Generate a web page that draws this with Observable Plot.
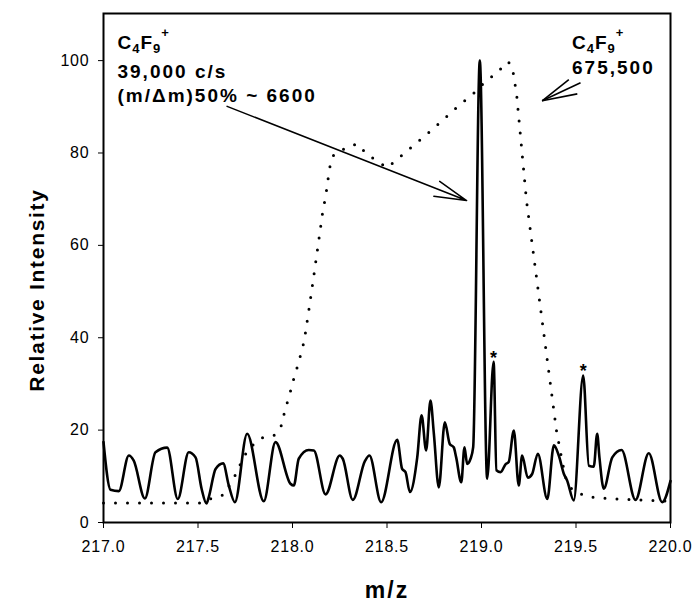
<!DOCTYPE html>
<html>
<head>
<meta charset="utf-8">
<script src="https://cdn.jsdelivr.net/npm/d3@7"></script>
<script src="https://cdn.jsdelivr.net/npm/@observablehq/plot@0.6"></script>
<style>
  body { margin: 0; background: #fff; }
</style>
</head>
<body>
<div id="chart"></div>
<script>
// ---- Data ----
const xTicks = [217.0, 217.5, 218.0, 218.5, 219.0, 219.5, 220.0];
const yTicks = [0, 20, 40, 60, 80, 100];

// High-resolution spectrum (solid line)
const solidMz = [217.000, 217.037, 217.081, 217.134, 217.160, 217.219, 217.275, 217.337, 217.393, 217.451,
  217.487, 217.519, 217.545, 217.557, 217.593, 217.633, 217.663, 217.695, 217.760, 217.848,
  217.910, 217.989, 218.007, 218.033, 218.086, 218.113, 218.175, 218.250, 218.266, 218.319,
  218.383, 218.407, 218.469, 218.554, 218.580, 218.598, 218.621, 218.660, 218.683, 218.707,
  218.730, 218.748, 218.774, 218.806, 218.832, 218.853, 218.866, 218.893, 218.910, 218.924,
  218.942, 218.956, 218.991, 219.030, 219.064, 219.079, 219.101, 219.127, 219.144, 219.171,
  219.197, 219.215, 219.245, 219.268, 219.298, 219.348, 219.383, 219.409, 219.436, 219.453,
  219.488, 219.538, 219.568, 219.594, 219.612, 219.624, 219.647, 219.692, 219.741, 219.815,
  219.885, 219.956, 220.000];
const solidIntensity = [17.4, 7.1, 6.8, 14.5, 13.4, 5.2, 15.2, 16.2, 5.1, 15.2,
  14.1, 7.3, 4.1, 5.5, 11.6, 12.8, 8.0, 4.4, 19.2, 4.6,
  17.4, 8.4, 8.0, 13.8, 15.7, 15.6, 6.1, 14.5, 13.8, 4.9,
  13.3, 14.5, 4.4, 17.9, 11.6, 10.9, 6.6, 14.1, 23.2, 15.6,
  26.4, 19.2, 7.6, 21.7, 17.0, 16.3, 14.1, 8.7, 16.3, 12.7,
  13.8, 16.3, 100, 9.5, 34.8, 11.3, 10.9, 12.6, 13.1, 19.9,
  8.0, 14.5, 9.7, 10.5, 14.9, 5.1, 16.7, 14.5, 10.5, 9.1,
  4.8, 31.8, 12.3, 12.1, 19.2, 14.1, 7.3, 14.1, 15.7, 4.9,
  15.0, 4.4, 9.0];

// Low-resolution spectrum (dotted line)
const dottedMz = [217.000, 217.508, 217.566, 217.637, 217.698, 217.725, 217.767, 217.836, 217.901, 217.937,
  217.951, 217.967, 217.984, 217.998, 218.032, 218.062, 218.088, 218.113, 218.138, 218.162,
  218.175, 218.192, 218.201, 218.219, 218.289, 218.342, 218.395, 218.501, 218.562, 218.628,
  218.692, 218.757, 218.822, 218.885, 218.951, 219.012, 219.078, 219.141, 219.166, 219.171,
  219.184, 219.189, 219.238, 219.374, 219.397, 219.418, 219.444, 219.481, 219.559, 219.630,
  219.762, 219.894, 220.000];
const dottedIntensity = [4.2, 4.2, 5.1, 6.0, 10.3, 12.7, 16.0, 18.3, 18.8, 20.4,
  22.8, 25.3, 27.5, 29.9, 34.6, 39.3, 46.4, 53.5, 60.8, 67.9,
  70.4, 75.5, 77.7, 79.7, 81.2, 82.0, 79.7, 76.8, 78.9, 81.2,
  83.4, 85.7, 88.1, 90.5, 92.6, 95.1, 97.3, 99.8, 98.3, 96.0,
  93.6, 91.3, 69.7, 27.0, 19.8, 15.2, 9.8, 7.0, 5.6, 5.3,
  5.0, 4.8, 4.6];

// Peaks marked with asterisks
const starMz = [219.064, 219.538];
const starIntensity = [34.8, 31.8];

// Annotation texts (anchor in data units: m/z, intensity)
const annoText = ["C4F9+", "39,000 c/s", "(m/\u0394m)50% ~ 6600", "C4F9+", "675,500"];
const annoMz = [217.074, 217.074, 217.074, 219.479, 219.479];
const annoIntensity = [102.5, 96.3, 91.1, 102.5, 97.1];

// Arrow 1 (long pointer, from -> to, data units)
const arrowFromMz = [217.654];
const arrowFromI = [90.1];
const arrowToMz = [218.921];
const arrowToI = [69.7];

// Arrow 2 (short three-stroke pointer: tip and stroke ends, data units)
const pointerTipMz = 219.321;
const pointerTipI = 91.3;
const pointerEndMz = [219.462, 219.524, 219.507];
const pointerEndI = [95.9, 95.2, 92.8];

// ---- Tables built from arrays ----
const solid = solidMz.map((mz, i) => ({mz, i: solidIntensity[i]}));
const dotted = dottedMz.map((mz, i) => ({mz, i: dottedIntensity[i]}));
const stars = starMz.map((mz, i) => ({mz, i: starIntensity[i]}));
const annotations = annoText.map((t, k) => ({text: t, mz: annoMz[k], i: annoIntensity[k]}));
const arrows = arrowFromMz.map((m, k) => ({x1: m, y1: arrowFromI[k], x2: arrowToMz[k], y2: arrowToI[k]}));
const pointer = pointerEndMz.map((m, k) => ({x1: m, y1: pointerEndI[k], x2: pointerTipMz, y2: pointerTipI}));

const chart = Plot.plot({
  width: 693,
  height: 602,
  marginLeft: 103,
  marginRight: 23,
  marginTop: 13,
  marginBottom: 80,
  style: {fontFamily: "'Liberation Sans', Arial, Helvetica, sans-serif", background: "white", color: "black"},
  x: {domain: [217, 220]},
  y: {domain: [0, 110.2]},
  marks: [
    Plot.axisX({ticks: xTicks, tickFormat: d3.format(".1f"), tickSize: 6, tickPadding: 12, fontSize: 16, label: null, stroke: "black", fill: "black"}),
    Plot.axisY({ticks: yTicks, tickSize: 5, tickPadding: 9, fontSize: 16, label: null, stroke: "black", fill: "black"}),
    Plot.line(dotted, {x: "mz", y: "i", stroke: "black", strokeWidth: 3, strokeDasharray: "0 12", strokeLinecap: "round"}),
    Plot.line(solid, {x: "mz", y: "i", stroke: "black", strokeWidth: 2.6, curve: "monotone-x", strokeLinejoin: "round"}),
    Plot.frame({stroke: "black", strokeWidth: 2}),
    Plot.arrow(arrows, {x1: "x1", y1: "y1", x2: "x2", y2: "y2", headAngle: 28, headLength: 33, stroke: "black", strokeWidth: 1.5}),
    Plot.link(pointer, {x1: "x1", y1: "y1", x2: "x2", y2: "y2", stroke: "black", strokeWidth: 1.6}),
    Plot.text(annotations, {x: "mz", y: "i", text: "text", textAnchor: "start", lineAnchor: "bottom", fontSize: 19, fontWeight: "bold", fill: "black"}),
    Plot.text(stars, {x: "mz", y: "i", text: () => "*", fontSize: 18, fontWeight: "bold", dy: -4, fill: "black"}),
    Plot.text(["Relative Intensity"], {text: d => d, frameAnchor: "left", textAnchor: "middle", rotate: -90, dx: -66, dy: 22, fontSize: 21, fontWeight: "bold", fill: "black"}),
    Plot.text(["m/z"], {text: d => d, frameAnchor: "bottom", dy: 75, fontSize: 23, fontWeight: "bold", fill: "black"})
  ]
});

// ---- Typographic post-processing ----
const root = d3.select(chart);
root.selectAll('g[aria-label="x-axis tick label"] text, g[aria-label="y-axis tick label"] text')
  .style("letter-spacing", "0.8px");
root.selectAll("text").each(function() {
  const el = d3.select(this);
  const s = this.textContent;
  if (s === "Relative Intensity") el.style("letter-spacing", "1.7px");
  else if (s === "m/z") el.style("letter-spacing", "2px");
  else if (annoText.includes(s)) {
    el.style("letter-spacing", "2px");
    if (s === "C4F9+") {
      el.style("letter-spacing", "1px");
      el.text(null);
      el.append("tspan").text("C");
      el.append("tspan").attr("dy", 4).attr("font-size", 13).text("4");
      el.append("tspan").attr("dy", -4).text("F");
      el.append("tspan").attr("dy", 4).attr("font-size", 13).text("9");
      el.append("tspan").attr("dy", -16).attr("font-size", 13).text("+");
    }
  }
});

document.getElementById("chart").appendChild(chart);
</script>
</body>
</html>
